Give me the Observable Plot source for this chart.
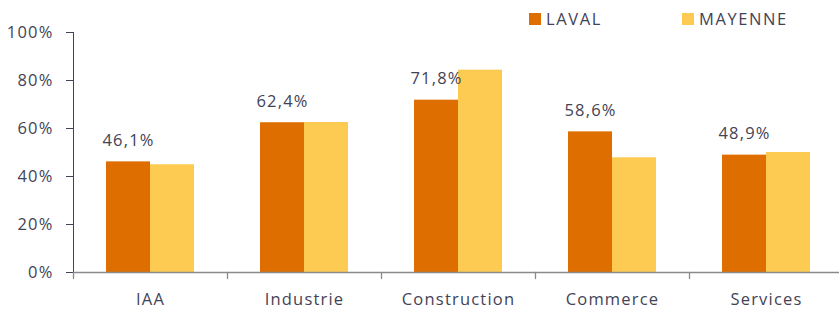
<!DOCTYPE html>
<html>
<head>
<meta charset="utf-8">
<script src="https://cdn.jsdelivr.net/npm/d3@7"></script>
<script src="https://cdn.jsdelivr.net/npm/@observablehq/plot@0.6"></script>
<style>
  html, body { margin: 0; padding: 0; background: #fff; }
  #chart { position: relative; width: 839px; height: 310px; overflow: hidden; font-family: "Open Sans", sans-serif; }
  #chart svg text { letter-spacing: 1.2px; }
  #legend { position: absolute; top: 7px; left: 529px; display: flex; font-size: 16.5px; color: #434356; letter-spacing: 1.6px; }
  #legend .item { display: flex; align-items: center; width: 153px; }
  #legend .sw { width: 12px; height: 12px; margin-right: 5px; }
</style>
</head>
<body>
<div id="chart"><div id="legend"></div></div>
<script>
const categories = ["IAA", "Industrie", "Construction", "Commerce", "Services"];
const series = ["LAVAL", "MAYENNE"];
const laval = [46.1, 62.4, 71.8, 58.6, 48.9];
const mayenne = [44.9, 62.5, 84.3, 47.8, 50.0];
const yTicks = [0, 20, 40, 60, 80, 100];
const colors = ["#DE6E00", "#FECB52"];

const textColor = "#434356";
const axisColor = "#8a8a8a";

const rows = categories.flatMap((c, i) => [
  {category: c, series: series[0], value: laval[i]},
  {category: c, series: series[1], value: mayenne[i]}
]);
const lavalRows = rows.filter(d => d.series === series[0]);
const fmt = v => v.toFixed(1).replace(".", ",") + "%";

const chart = Plot.plot({
  width: 839,
  height: 310,
  marginLeft: 73,
  marginRight: -4,
  marginTop: 32,
  marginBottom: 38,
  style: {fontFamily: "Open Sans, sans-serif", fontSize: "16.5px", color: textColor, background: "#fff"},
  fx: {domain: categories, paddingInner: 0, paddingOuter: 0, label: null, tickSize: 0, tickPadding: 21},
  x: {domain: series, paddingInner: 0, paddingOuter: 0.75, axis: null},
  y: {domain: [0, 100], ticks: yTicks, tickFormat: d => d + "%", tickSize: 7, tickPadding: 13, label: null, line: true},
  color: {domain: series, range: colors},
  marks: [
    Plot.barY(rows, {fx: "category", x: "series", y: "value", fill: "series"}),
    Plot.ruleY([0], {stroke: axisColor, strokeWidth: 1.3}),
    Plot.vector(categories, {
      fx: d => d, frameAnchor: "bottom-left", length: 6, rotate: 180, anchor: "start",
      stroke: axisColor, strokeWidth: 1.3,
      shape: {draw(ctx, l) { ctx.moveTo(0, 0); ctx.lineTo(0, -l); }}
    }),
    Plot.text(lavalRows, {fx: "category", x: "series", y: "value", text: d => fmt(d.value), dy: -21, fill: textColor, fontSize: 16.5})
  ]
});
chart.style.position = "absolute";
chart.style.left = "0";
chart.style.top = "0";
d3.select(chart).selectAll("[aria-label='y-axis tick'], [aria-label='y-axis line']").attr("stroke", axisColor);
const root = document.getElementById("chart");
root.insertBefore(chart, root.firstChild);

const legend = document.getElementById("legend");
series.forEach((s, i) => {
  const item = document.createElement("div");
  item.className = "item";
  const sw = document.createElement("span");
  sw.className = "sw";
  sw.style.background = colors[i];
  const label = document.createElement("span");
  label.textContent = s;
  item.appendChild(sw);
  item.appendChild(label);
  legend.appendChild(item);
});
</script>
</body>
</html>
